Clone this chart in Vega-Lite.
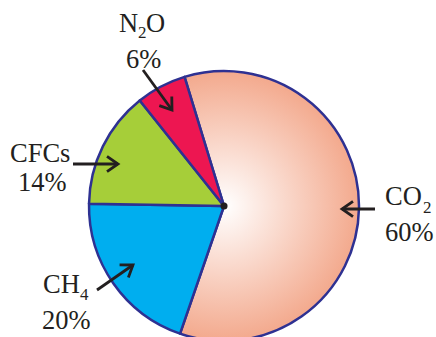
{
  "$schema": "https://vega.github.io/schema/vega-lite/v6.json",
  "width": 424,
  "height": 262,
  "autosize": {"type": "none"},
  "padding": {"left": 12, "top": 75, "right": 0, "bottom": 0},
  "background": "#ffffff",
  "config": {"view": {"stroke": null}},
  "datasets": {
    "slices": [
      {"gas": "CO2", "pct": 60, "ord": 1},
      {"gas": "CH4", "pct": 20, "ord": 2},
      {"gas": "CFCs", "pct": 14, "ord": 3},
      {"gas": "N2O", "pct": 6, "ord": 4}
    ],
    "main": [
      {"gas": "CO2", "text": "CO", "x": 1.1926, "y": 0.0074},
      {"gas": "CO2", "text": "60%", "x": 1.1926, "y": -0.2593},
      {"gas": "N2O", "text": "N", "x": -0.7778, "y": 1.2889},
      {"gas": "N2O", "text": "O", "x": -0.5778, "y": 1.2889},
      {"gas": "N2O", "text": "6%", "x": -0.7259, "y": 1.0222},
      {"gas": "CFCs", "text": "CFCs", "x": -1.5852, "y": 0.3259},
      {"gas": "CFCs", "text": "14%", "x": -1.5259, "y": 0.1111},
      {"gas": "CH4", "text": "CH", "x": -1.3407, "y": -0.6444},
      {"gas": "CH4", "text": "20%", "x": -1.3481, "y": -0.9111}
    ],
    "subs": [
      {"gas": "CO2", "text": "2", "x": 1.4741, "y": -0.0519},
      {"gas": "N2O", "text": "2", "x": -0.637, "y": 1.2444},
      {"gas": "CH4", "text": "4", "x": -1.0667, "y": -0.6963}
    ],
    "arrows": [
      {"gas": "CO2", "x1": 1.1185, "y1": -0.0222, "x2": 0.8741, "y2": -0.0222},
      {"gas": "N2O", "x1": -0.6, "y1": 1.0074, "x2": -0.3852, "y2": 0.7111},
      {"gas": "CFCs", "x1": -1.1185, "y1": 0.3111, "x2": -0.7852, "y2": 0.3111},
      {"gas": "CH4", "x1": -0.9407, "y1": -0.6222, "x2": -0.6741, "y2": -0.437}
    ],
    "center": [{"x": 0, "y": 0}]
  },
  "layer": [
    {
      "data": {"name": "slices"},
      "mark": {"type": "arc", "outerRadius": 135, "stroke": "#2E3192", "strokeWidth": 2.5, "strokeJoin": "round"},
      "encoding": {
        "theta": {"field": "pct", "type": "quantitative", "stack": true, "scale": {"range": [-0.29671, 5.98648]}},
        "order": {"field": "ord", "type": "quantitative"},
        "color": {
          "condition": {
            "test": "datum.gas === 'CO2'",
            "value": {"gradient": "radial", "x1": 0.3314, "y1": 0.5, "r1": 0, "x2": 0.3314, "y2": 0.5, "r2": 0.5,
              "stops": [{"offset": 0, "color": "#ffffff"}, {"offset": 1, "color": "#F3A98D"}]}
          },
          "field": "gas", "type": "nominal",
          "scale": {"domain": ["CO2", "CH4", "CFCs", "N2O"], "range": ["#F3A98D", "#00AEEF", "#A6CE39", "#ED1651"]},
          "legend": null
        }
      }
    },
    {
      "data": {"name": "center"},
      "mark": {"type": "point", "shape": "circle", "filled": true, "size": 50, "color": "#231F20", "opacity": 1},
      "encoding": {
        "x": {"field": "x", "type": "quantitative", "axis": null, "scale": {"domain": [-1.5704, 1.5704], "nice": false, "zero": false}},
        "y": {"field": "y", "type": "quantitative", "axis": null, "scale": {"domain": [-0.9704, 0.9704], "nice": false, "zero": false}}
      }
    },
    {
      "data": {"name": "arrows"},
      "mark": {"type": "rule", "color": "#231F20", "strokeWidth": 2.8},
      "encoding": {
        "x": {"field": "x1", "type": "quantitative", "axis": null, "scale": {"domain": [-1.5704, 1.5704], "nice": false, "zero": false}},
        "y": {"field": "y1", "type": "quantitative", "axis": null, "scale": {"domain": [-0.9704, 0.9704], "nice": false, "zero": false}},
        "x2": {"field": "x2"},
        "y2": {"field": "y2"}
      }
    },
    {
      "data": {"name": "arrows"},
      "transform": [{"calculate": "atan2(-(datum.y2 - datum.y1), datum.x2 - datum.x1) * 180 / PI", "as": "ang"}],
      "mark": {"type": "point", "shape": "M-1,-0.7L0,0L-1,0.7", "filled": false, "size": 484, "stroke": "#231F20", "strokeWidth": 2.8, "opacity": 1, "strokeJoin": "miter"},
      "encoding": {
        "x": {"field": "x2", "type": "quantitative", "axis": null, "scale": {"domain": [-1.5704, 1.5704], "nice": false, "zero": false}},
        "y": {"field": "y2", "type": "quantitative", "axis": null, "scale": {"domain": [-0.9704, 0.9704], "nice": false, "zero": false}},
        "angle": {"field": "ang", "type": "quantitative", "scale": null}
      }
    },
    {
      "data": {"name": "main"},
      "mark": {"type": "text", "font": "Liberation Serif", "fontSize": 26.5, "align": "left", "baseline": "alphabetic", "color": "#231F20"},
      "encoding": {
        "x": {"field": "x", "type": "quantitative", "axis": null, "scale": {"domain": [-1.5704, 1.5704], "nice": false, "zero": false}},
        "y": {"field": "y", "type": "quantitative", "axis": null, "scale": {"domain": [-0.9704, 0.9704], "nice": false, "zero": false}},
        "text": {"field": "text", "type": "nominal"}
      }
    },
    {
      "data": {"name": "subs"},
      "mark": {"type": "text", "font": "Liberation Serif", "fontSize": 17, "align": "left", "baseline": "alphabetic", "color": "#231F20"},
      "encoding": {
        "x": {"field": "x", "type": "quantitative", "axis": null, "scale": {"domain": [-1.5704, 1.5704], "nice": false, "zero": false}},
        "y": {"field": "y", "type": "quantitative", "axis": null, "scale": {"domain": [-0.9704, 0.9704], "nice": false, "zero": false}},
        "text": {"field": "text", "type": "nominal"}
      }
    }
  ]
}
